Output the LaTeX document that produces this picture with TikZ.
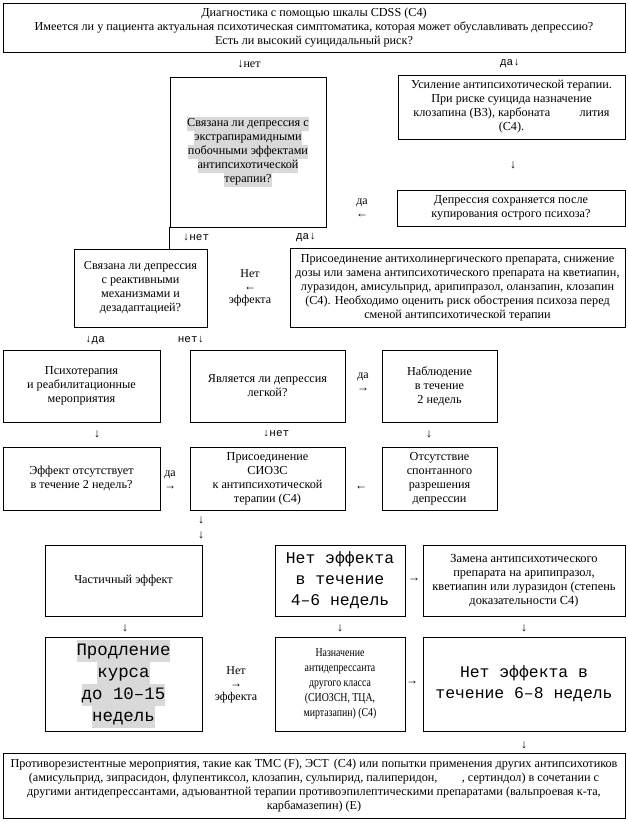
\documentclass[tikz,border=0pt]{standalone}
\usepackage{fontspec}
\setmainfont{Liberation Serif}
\newfontfamily\monofont{Liberation Mono}
\newfontfamily\narrowfont[FakeStretch=0.82]{Liberation Serif}
\usetikzlibrary{arrows.meta}

\definecolor{hlgray}{RGB}{217,217,217}
\newcommand{\hlt}[1]{{\setlength{\fboxsep}{0pt}\colorbox{hlgray}{\strut #1}}}

\tikzset{
  box/.style={draw, line width=0.9pt, inner sep=1pt, align=center,
    font=\fontsize{12.2}{14}\selectfont},
  bigbox/.style={box, font=\monofont\fontsize{16.4}{21}\selectfont},
  lbl/.style={inner sep=0pt, align=center, font=\fontsize{12}{13}\selectfont},
  mlbl/.style={inner sep=0pt, font=\monofont\fontsize{11}{13}\selectfont},
}

\begin{document}
\begin{tikzpicture}[x=1pt, y=-1pt]
  \fill[white] (0,0) rectangle (628,822);
  \useasboundingbox (0,0) rectangle (628,822);
  % Diagnosis
  \node[box, minimum width=622pt, minimum height=49pt] (diag) at (314,27.5)
    {Диагностика с помощью шкалы CDSS (С4)\\
     Имеется ли у пациента актуальная психотическая симптоматика, которая может обуславливать депрессию?\\
     Есть ли высокий суицидальный риск?};
  \node[lbl] (diagNo) at (249,64) {↓нет};
  \node[mlbl] (diagYes) at (510,64) {да↓};
  % Upper block
  \node[box, minimum width=156pt, minimum height=150pt] (eps) at (248,152)
    {\hlt{Связана ли депрессия с}\\\hlt{экстрапирамидными}\\\hlt{побочными эффектами}\\
     \hlt{антипсихотической}\\\hlt{терапии?}};
  \node[box, minimum width=227pt, minimum height=64pt] (boost) at (511.5,107)
    {Усиление антипсихотической терапии.\\При риске суицида назначение\\
     клозапина (B3), карбоната\hspace{2.4em}лития\\(С4).};
  \node[lbl] (boostDown) at (513,165) {↓};
  \node[box, minimum width=228pt, minimum height=36pt] (persist) at (511,208)
    {Депрессия сохраняется после\\купирования острого психоза?};
  \node[lbl] (persistYes) at (362,208) {да\\←};
  \node[mlbl] (epsNo) at (196,238) {↓нет};
  \node[mlbl] (epsYes) at (306,238) {да↓};
  % Second block
  \node[box, minimum width=133pt, minimum height=78pt] (react) at (140.5,288)
    {Связана ли депрессия\\с реактивными\\механизмами и\\дезадаптацией?};
  \draw[line width=0.9pt] (eps.south west) -- (eps.south west |- react.north);
  \node[box, minimum width=335pt, minimum height=79pt] (antichol) at (457.5,287.5)
    {Присоединение антихолинергического препарата, снижение\\
     дозы или замена антипсихотического препарата на кветиапин,\\
     луразидон, амисульприд, арипипразол, оланзапин, клозапин\\
     (С4). Необходимо оценить риск обострения психоза перед\\
     сменой антипсихотической терапии};
  \node[lbl] (antiNo) at (250,288) {Нет\\←\\эффекта};
  \node[mlbl] (reactYes) at (95,340) {↓да};
  \node[mlbl] (reactNo) at (191,340) {нет↓};
  % Third row
  \node[box, minimum width=157pt, minimum height=72pt] (psych) at (81.5,386)
    {Психотерапия\\и реабилитационные\\мероприятия};
  \node[box, minimum width=155pt, minimum height=72pt] (mild) at (267.5,386)
    {Является ли депрессия\\легкой?};
  \node[box, minimum width=115pt, minimum height=72pt] (watch) at (439.5,386)
    {Наблюдение\\в течение\\2 недель};
  \node[lbl] (mildYes) at (363,382) {да\\→};
  \node[lbl] (psychDown) at (97,434) {↓};
  \node[mlbl] (mildNo) at (276,434) {↓нет};
  \node[lbl] (watchDown) at (429,434) {↓};
  % Fourth row
  \node[box, minimum width=157pt, minimum height=63pt] (noeff) at (81.5,478.5)
    {Эффект отсутствует\\в течение 2 недель?};
  \node[box, minimum width=155pt, minimum height=63pt] (ssri) at (267.5,478.5)
    {Присоединение\\СИОЗС\\к антипсихотической\\терапии (С4)};
  \node[box, minimum width=115pt, minimum height=63pt] (nores) at (439.5,478.5)
    {Отсутствие\\спонтанного\\разрешения\\депрессии};
  \node[lbl] (noeffYes) at (170,480) {да\\→};
  \node[lbl] (noresLeft) at (361,488) {←};
  \node[lbl] (ssriDownA) at (201,520) {↓};
  \node[lbl] (ssriDownB) at (201,535) {↓};
  % Fifth row
  \node[box, minimum width=157pt, minimum height=71pt] (partial) at (123.5,580.5)
    {Частичный эффект};
  \node[bigbox, minimum width=130pt, minimum height=71pt] (fail46) at (340,580.5)
    {Нет эффекта\\в течение\\4–6 недель};
  \node[box, minimum width=202pt, minimum height=71pt,
    font=\fontsize{12.4}{14}\selectfont] (swap) at (524,580.5)
    {Замена антипсихотического\\препарата на арипипразол,\\
     кветиапин или луразидон (степень\\доказательности С4)};
  \node[lbl] (fail46Right) at (414,580) {→};
  \node[lbl] (partialDown) at (125,628) {↓};
  \node[lbl] (fail46Down) at (340,628) {↓};
  \node[lbl] (swapDown) at (524,628) {↓};
  % Sixth row
  \node[bigbox, minimum width=157pt, minimum height=94pt,
    font=\monofont\fontsize{17.4}{22}\selectfont] (extend) at (123.5,684)
    {\hlt{Продление}\\\hlt{курса}\\\hlt{до 10–15}\\\hlt{недель}};
  \node[box, minimum width=130pt, minimum height=94pt,
    font=\narrowfont\fontsize{12}{15}\selectfont] (other) at (340,684)
    {Назначение\\антидепрессанта\\другого класса\\(СИОЗСН, ТЦА,\\миртазапин) (С4)};
  \node[bigbox, minimum width=202pt, minimum height=94pt] (fail68) at (524,684)
    {Нет эффекта в\\течение 6–8 недель};
  \node[lbl] (extendNo) at (236,685) {Нет\\→\\эффекта};
  \node[lbl] (otherRight) at (412,683) {→};
  \node[lbl] (fail68Down) at (524,745) {↓};
  % Resistance
  \node[box, minimum width=622pt, minimum height=65pt] (resist) at (314,785.5)
    {Противорезистентные мероприятия, такие как ТМС (F), ЭСТ\, (С4) или попытки применения других антипсихотиков\\
     (амисульприд, зипрасидон, флупентиксол, клозапин, сульпирид, палиперидон,\hspace{2em}, сертиндол) в сочетании с\\
     другими антидепрессантами, адъювантной терапии противоэпилептическими препаратами (вальпроевая к-та,\\
     карбамазепин) (E)};
\end{tikzpicture}
\end{document}
